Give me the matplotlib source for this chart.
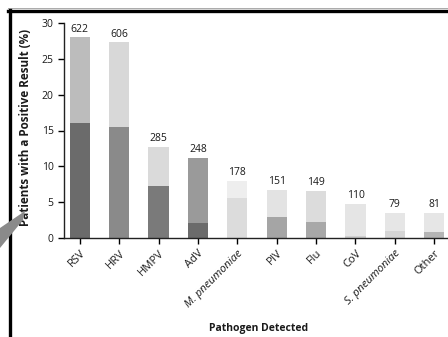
import matplotlib
matplotlib.use("Agg")
import matplotlib.pyplot as plt
from matplotlib.patches import Polygon
from matplotlib.lines import Line2D

categories = ["RSV", "HRV", "HMPV", "AdV", "M. pneumoniae", "PIV", "Flu", "CoV",
              "S. pneumoniae", "Other"]
total_pct = [28.0, 27.3, 12.7, 11.2, 8.0, 6.7, 6.6, 4.8, 3.5, 3.5]
lower_pct = [16.1, 15.5, 7.3, 2.1, 5.6, 2.9, 2.3, 0.3, 1.0, 0.8]
counts = [622, 606, 285, 248, 178, 151, 149, 110, 79, 81]
yticks = [0, 5, 10, 15, 20, 25, 30]

lower_colors = ["#6b6b6b", "#8a8a8a", "#7a7a7a", "#6b6b6b", "#dcdcdc",
                "#a5a5a5", "#a8a8a8", "#d0d0d0", "#d5d5d5", "#b5b5b5"]
upper_colors = ["#bcbcbc", "#d8d8d8", "#dadada", "#9a9a9a", "#eeeeee",
                "#e3e3e3", "#dcdcdc", "#e5e5e5", "#e6e6e6", "#e6e6e6"]

plt.rcParams['font.family'] = ['Open Sans', 'DejaVu Sans']

W, H = 448, 337
TXT = "#1a1a1a"
fig = plt.figure(figsize=(W / 100, H / 100), dpi=100)
ax = fig.add_axes([64 / W, 99 / H, (450 - 64) / W, 215 / H])

x = list(range(len(categories)))
upper = [t - l for t, l in zip(total_pct, lower_pct)]
ax.bar(x, lower_pct, width=0.51, color=lower_colors, zorder=2)
ax.bar(x, upper, bottom=lower_pct, width=0.51, color=upper_colors, zorder=2)

for xi, t, c in zip(x, total_pct, counts):
    ax.annotate(str(c), (xi, t), xytext=(0, 2), textcoords="offset points",
                ha="center", va="bottom", fontsize=7.5, color=TXT)

ax.set_xlim(-0.4, 9.4)
ax.set_ylim(0, 30)
ax.set_yticks(yticks)
ax.set_xticks(x)
labels = ax.set_xticklabels(categories, rotation=45, ha="right",
                            rotation_mode="anchor", fontsize=8, color=TXT)
for lab in labels:
    if "pneumoniae" in lab.get_text():
        lab.set_style("italic")
ax.tick_params(axis="y", labelsize=7.5, labelcolor=TXT, length=4,
               width=1, direction="out")
ax.tick_params(axis="x", length=4, width=1, direction="out", pad=3)
for s in ["top", "right"]:
    ax.spines[s].set_visible(False)
for s in ["left", "bottom"]:
    ax.spines[s].set_linewidth(1.0)
    ax.spines[s].set_color("#222222")

ax.set_ylabel("Patients with a Positive Result (%)", fontsize=8.4,
              fontweight="bold", color=TXT)
ax.yaxis.set_label_coords(-0.083, 0.516)
ax.set_xlabel("Pathogen Detected", fontsize=7.5, fontweight="bold", color=TXT)
ax.xaxis.set_label_coords(0.503, -0.395)

# frame lines of the screenshot
fig.add_artist(Line2D([8 / W, 1.0], [1 - 8 / H, 1 - 8 / H], color="#aaaaaa",
                      lw=0.7, transform=fig.transFigure))
fig.add_artist(Line2D([8 / W, 1.0], [1 - 11 / H, 1 - 11 / H], color="black",
                      lw=2.4, transform=fig.transFigure))
fig.add_artist(Line2D([9.5 / W, 9.5 / W], [1 - 10 / H, 0], color="black",
                      lw=2.4, transform=fig.transFigure))
# gray wedge
pts = [(0, 228), (25, 211), (23, 220), (0, 248)]
fig.add_artist(Polygon([(px / W, 1 - py / H) for px, py in pts],
                       closed=True, color="#8a8a8a", lw=0,
                       transform=fig.transFigure, zorder=5))

fig.savefig("out.png", dpi=100)
